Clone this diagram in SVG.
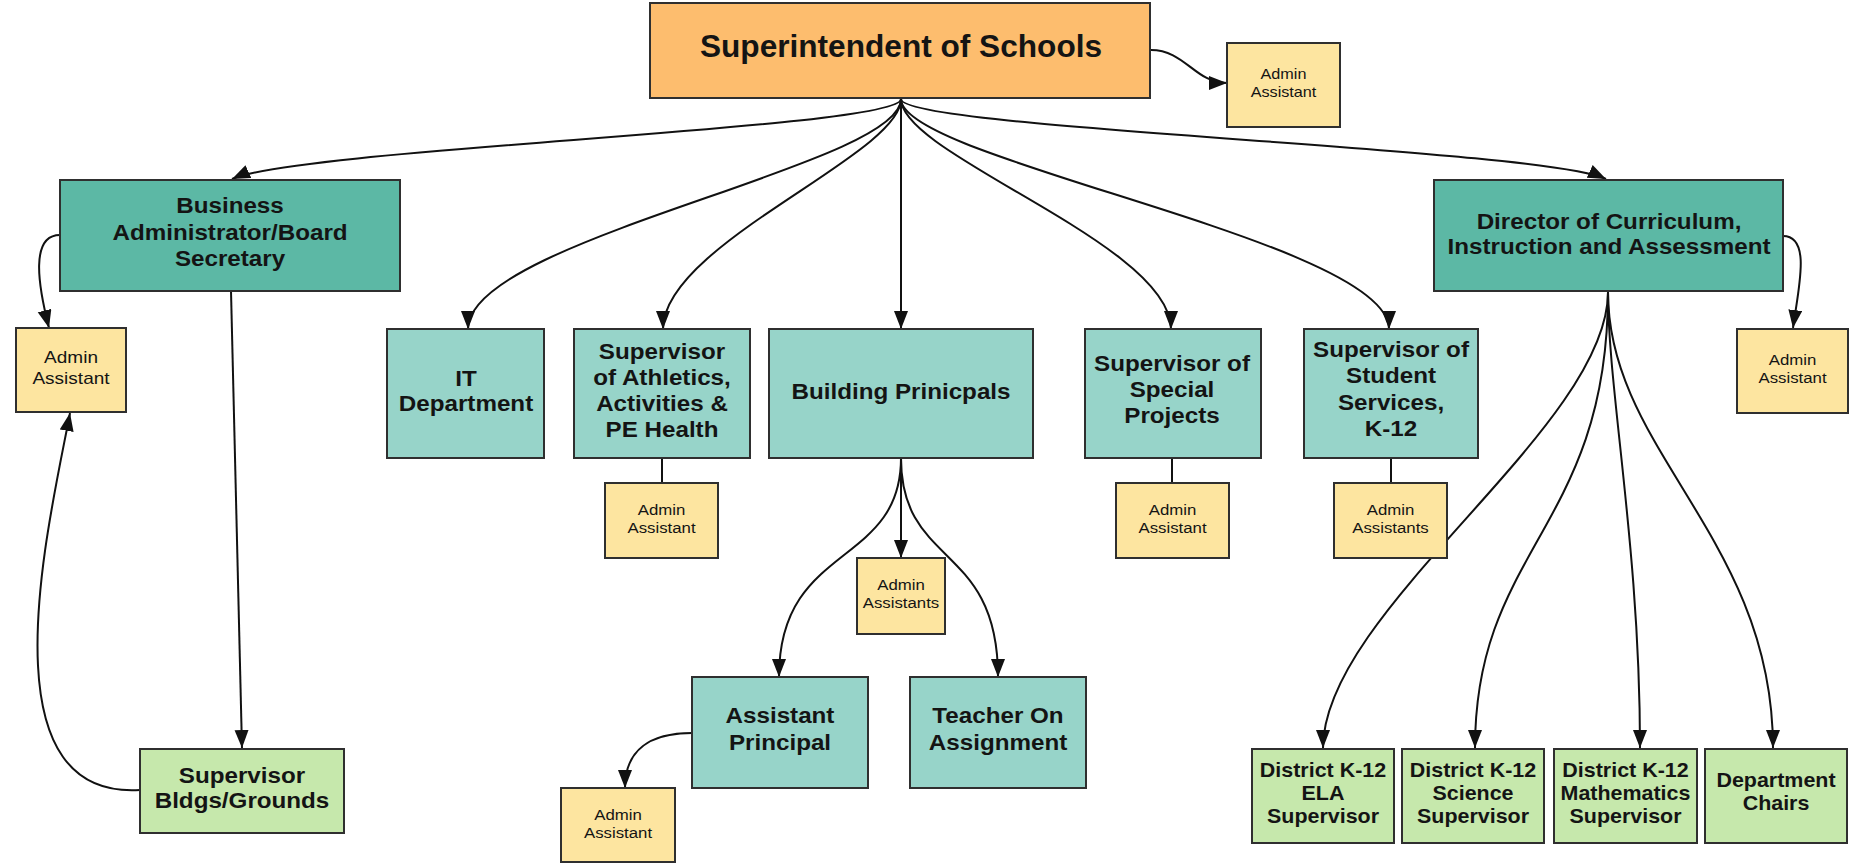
<svg xmlns="http://www.w3.org/2000/svg" width="1865" height="866" viewBox="0 0 1865 866">
<style>
rect{stroke:#2f2f2f;stroke-width:2}
.org{fill:#fdbd6e}.dk{fill:#5cb8a5}.lt{fill:#97d4c9}.yl{fill:#fde5a0}.gr{fill:#c6e8ac}
text{font-family:"Liberation Sans",Arial,sans-serif;fill:#141414;text-anchor:middle}
.b{font-weight:bold;font-size:22px}
.d{font-weight:bold;font-size:19.5px}
.s{font-size:15px}
#connectors path{fill:none;stroke:#111;stroke-width:2}
</style>
<defs>
<marker id="ah" markerUnits="userSpaceOnUse" markerWidth="20" markerHeight="16" refX="18" refY="7" orient="auto"><path d="M0,0 L18,7 L0,14 z" fill="#111"/></marker>
</defs>
<rect width="1865" height="866" fill="#fff" style="stroke:none"/>
<g id="connectors">
<path d="M901,99 C901,129 300,148 232,179" marker-end="url(#ah)"/>
<path d="M901,99 C901,166 468,239 468,329" marker-end="url(#ah)"/>
<path d="M901,99 C901,155 663,244 663,329" marker-end="url(#ah)"/>
<path d="M901,99 L901,329" marker-end="url(#ah)"/>
<path d="M901,99 C901,155 1171,244 1171,329" marker-end="url(#ah)"/>
<path d="M901,99 C901,160 1389,241 1389,329" marker-end="url(#ah)"/>
<path d="M901,99 C901,129 1540,148 1606,179" marker-end="url(#ah)"/>
<path d="M1151,50 C1185,50 1195,83 1227,83" marker-end="url(#ah)"/>
<path d="M60,235 C30,235 38,285 49,328" marker-end="url(#ah)"/>
<path d="M231,291 L242,748" marker-end="url(#ah)"/>
<path d="M140,790 C-20,800 50,520 70,413" marker-end="url(#ah)"/>
<path d="M1783,236 C1812,236 1798,290 1793,328" marker-end="url(#ah)"/>
<path d="M662,458 L662,483"/>
<path d="M1172,458 L1172,483"/>
<path d="M1391,458 L1391,483"/>
<path d="M901,458 L901,558" marker-end="url(#ah)"/>
<path d="M901,458 C901,568 779,542 779,677" marker-end="url(#ah)"/>
<path d="M901,458 C901,568 998,542 998,677" marker-end="url(#ah)"/>
<path d="M692,733 C650,733 625,750 625,788" marker-end="url(#ah)"/>
<path d="M1608,292 C1608,428 1323,610 1323,748" marker-end="url(#ah)"/>
<path d="M1608,292 C1608,528 1475,548 1475,748" marker-end="url(#ah)"/>
<path d="M1608,292 C1608,392 1640,548 1640,748" marker-end="url(#ah)"/>
<path d="M1608,292 C1608,452 1773,538 1773,748" marker-end="url(#ah)"/>
</g>
<g id="superintendent"><rect class="org" x="650" y="3" width="500" height="95"/><text transform="translate(901,57) scale(1.02,1)" style="font-weight:bold;font-size:31px">Superintendent of Schools</text></g>
<g id="admin-sup"><rect class="yl" x="1227" y="43" width="113" height="84"/><text class="s" transform="translate(1283.5,79) scale(1.08,1)"><tspan x="0" y="0">Admin</tspan><tspan x="0" y="18">Assistant</tspan></text></g>
<g id="business"><rect class="dk" x="60" y="180" width="340" height="111"/><text class="b" transform="translate(230,213) scale(1.1,1)"><tspan x="0" y="0">Business</tspan><tspan x="0" y="27">Administrator/Board</tspan><tspan x="0" y="53">Secretary</tspan></text></g>
<g id="director"><rect class="dk" x="1434" y="180" width="349" height="111"/><text class="b" transform="translate(1609,229) scale(1.1,1)"><tspan x="0" y="0">Director of Curriculum,</tspan><tspan x="0" y="25">Instruction and Assessment</tspan></text></g>
<g id="admin-business"><rect class="yl" x="16" y="328" width="110" height="84"/><text transform="translate(71,363) scale(1.12,1)" style="font-size:17px"><tspan x="0" y="0">Admin</tspan><tspan x="0" y="21">Assistant</tspan></text></g>
<g id="it"><rect class="lt" x="387" y="329" width="157" height="129"/><text class="b" transform="translate(466,386) scale(1.1,1)"><tspan x="0" y="0">IT</tspan><tspan x="0" y="25">Department</tspan></text></g>
<g id="athletics"><rect class="lt" x="574" y="329" width="176" height="129"/><text class="b" transform="translate(662,359) scale(1.1,1)"><tspan x="0" y="0">Supervisor</tspan><tspan x="0" y="26">of Athletics,</tspan><tspan x="0" y="52">Activities &amp;</tspan><tspan x="0" y="78">PE Health</tspan></text></g>
<g id="building"><rect class="lt" x="769" y="329" width="264" height="129"/><text class="b" transform="translate(901,399) scale(1.1,1)">Building Prinicpals</text></g>
<g id="special"><rect class="lt" x="1085" y="329" width="176" height="129"/><text class="b" transform="translate(1172,371) scale(1.1,1)"><tspan x="0" y="0">Supervisor of</tspan><tspan x="0" y="26">Special</tspan><tspan x="0" y="52">Projects</tspan></text></g>
<g id="student"><rect class="lt" x="1304" y="329" width="174" height="129"/><text class="b" transform="translate(1391,357) scale(1.1,1)"><tspan x="0" y="0">Supervisor of</tspan><tspan x="0" y="26.5">Student</tspan><tspan x="0" y="53">Services,</tspan><tspan x="0" y="79">K-12</tspan></text></g>
<g id="admin-director"><rect class="yl" x="1737" y="329" width="111" height="84"/><text class="s" transform="translate(1792.5,365) scale(1.12,1)"><tspan x="0" y="0">Admin</tspan><tspan x="0" y="18">Assistant</tspan></text></g>
<g id="admin-athletics"><rect class="yl" x="605" y="483" width="113" height="75"/><text class="s" transform="translate(661.5,515) scale(1.12,1)"><tspan x="0" y="0">Admin</tspan><tspan x="0" y="18">Assistant</tspan></text></g>
<g id="admin-special"><rect class="yl" x="1116" y="483" width="113" height="75"/><text class="s" transform="translate(1172.5,515) scale(1.12,1)"><tspan x="0" y="0">Admin</tspan><tspan x="0" y="18">Assistant</tspan></text></g>
<g id="admin-student"><rect class="yl" x="1334" y="483" width="113" height="75"/><text class="s" transform="translate(1390.5,515) scale(1.12,1)"><tspan x="0" y="0">Admin</tspan><tspan x="0" y="18">Assistants</tspan></text></g>
<g id="admin-building"><rect class="yl" x="857" y="558" width="88" height="76"/><text class="s" transform="translate(901,590) scale(1.12,1)"><tspan x="0" y="0">Admin</tspan><tspan x="0" y="18">Assistants</tspan></text></g>
<g id="assistant-principal"><rect class="lt" x="692" y="677" width="176" height="111"/><text class="b" transform="translate(780,723) scale(1.1,1)"><tspan x="0" y="0">Assistant</tspan><tspan x="0" y="27">Principal</tspan></text></g>
<g id="teacher"><rect class="lt" x="910" y="677" width="176" height="111"/><text class="b" transform="translate(998,723) scale(1.1,1)"><tspan x="0" y="0">Teacher On</tspan><tspan x="0" y="27">Assignment</tspan></text></g>
<g id="admin-ap"><rect class="yl" x="561" y="788" width="114" height="74"/><text class="s" transform="translate(618,820) scale(1.12,1)"><tspan x="0" y="0">Admin</tspan><tspan x="0" y="18">Assistant</tspan></text></g>
<g id="bldgs"><rect class="gr" x="140" y="749" width="204" height="84"/><text class="b" transform="translate(242,783) scale(1.1,1)"><tspan x="0" y="0">Supervisor</tspan><tspan x="0" y="25">Bldgs/Grounds</tspan></text></g>
<g id="ela"><rect class="gr" x="1252" y="749" width="142" height="94"/><text class="d" transform="translate(1323,777) scale(1.1,1)"><tspan x="0" y="0">District K-12</tspan><tspan x="0" y="23">ELA</tspan><tspan x="0" y="46">Supervisor</tspan></text></g>
<g id="science"><rect class="gr" x="1402" y="749" width="142" height="94"/><text class="d" transform="translate(1473,777) scale(1.1,1)"><tspan x="0" y="0">District K-12</tspan><tspan x="0" y="23">Science</tspan><tspan x="0" y="46">Supervisor</tspan></text></g>
<g id="math"><rect class="gr" x="1554" y="749" width="143" height="94"/><text class="d" transform="translate(1625.5,777) scale(1.1,1)"><tspan x="0" y="0">District K-12</tspan><tspan x="0" y="23">Mathematics</tspan><tspan x="0" y="46">Supervisor</tspan></text></g>
<g id="chairs"><rect class="gr" x="1705" y="749" width="142" height="94"/><text class="d" transform="translate(1776,787) scale(1.1,1)"><tspan x="0" y="0">Department</tspan><tspan x="0" y="23">Chairs</tspan></text></g>
</svg>
